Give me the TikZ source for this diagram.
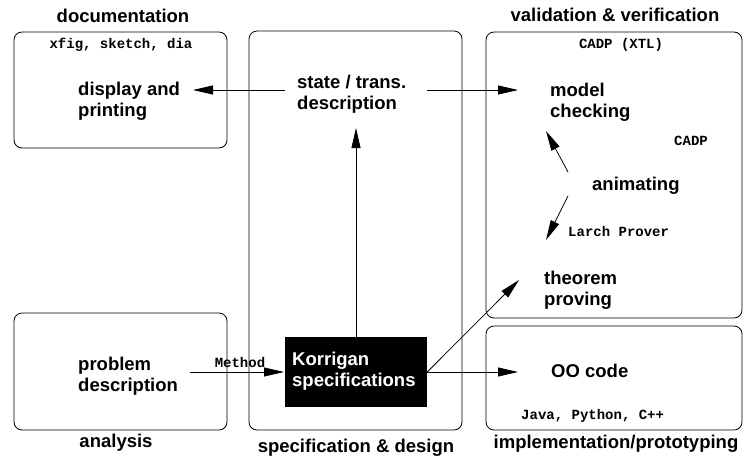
\documentclass[tikz,border=0pt]{standalone}
\usepackage{fontspec}
\setmainfont{Liberation Sans}
\setmonofont{Liberation Mono}
\usetikzlibrary{arrows.meta}
\begin{document}
\begin{tikzpicture}[x=1pt,y=-1pt,
  big/.style={font=\bfseries\fontsize{18.5}{21}\selectfont, inner sep=0pt, align=left},
  title/.style={font=\bfseries\fontsize{18.5}{21}\selectfont, inner sep=0pt, anchor=base},
  mono/.style={font=\ttfamily\bfseries\fontsize{14}{16}\selectfont, inner sep=0pt, anchor=base},
  panel/.style={draw, rounded corners=8pt, line width=0.8pt},
  arr/.style={-{Triangle[length=20pt,width=9pt]}, line width=0.8pt}]
\useasboundingbox (0,0) rectangle (743,458);
% panels
\draw[panel] (14,32) rectangle (227,148);
\draw[panel] (249,31) rectangle (462,430);
\draw[panel] (486,32) rectangle (742,318);
\draw[panel] (486,326) rectangle (742,430);
\draw[panel] (14,313) rectangle (227,430);
% titles
\node[title] (tdoc) at (123,22) {documentation};
\node[title] (tvv) at (615,21) {validation \& verification};
\node[title] (tana) at (116,447) {analysis};
\node[title] (tspec) at (356,452) {specification \& design};
\node[title] (timpl) at (616,448) {implementation/prototyping};
% tool texts
\node[mono] (mdoc) at (121,48) {xfig, sketch, dia};
\node[mono] (mcadpx) at (621,48) {CADP (XTL)};
\node[mono] (mcadp) at (691,145) {CADP};
\node[mono, anchor=base west] (mlarch) at (568,236) {Larch Prover};
\node[mono, anchor=base west] (mjava) at (521,419) {Java, Python, C++};
\node[mono] (mmeth) at (240,367) {Method};
% activity texts
\node[big, anchor=north west] (disp) at (78,81.5) {display and\\printing};
\node[big, anchor=north west] (state) at (297,74.5) {state / trans.\\description};
\node[big, anchor=north west] (model) at (550,83) {model\\checking};
\node[big, anchor=north west] (theo) at (544,270.5) {theorem\\proving};
\node[big, anchor=north west] (prob) at (78,356.5) {problem\\description};
\node[big, anchor=base west] (anim) at (592,190) {animating};
\node[big, anchor=base west] (oo) at (551,377) {OO code};
\node[fill=black, minimum width=142pt, minimum height=70pt, inner sep=0pt] (korr) at (356,372) {};
\node[big, text=white, anchor=north west] (korrt) at (292,352) {Korrigan\\specifications};
% connector ends
\coordinate (sL) at (285,90);
\coordinate (sR) at (427,90);
\coordinate (dIn) at (193,90);
\coordinate (mIn) at (518,90);
\coordinate (sIn) at (356,128);
\coordinate (pOut) at (190,372);
\coordinate (kIn) at (284,372);
\coordinate (ooIn) at (518,372);
\coordinate (tIn) at (519,280);
\coordinate (aUp) at (568,172);
\coordinate (aDn) at (568,196);
\coordinate (mcIn) at (546,131);
\coordinate (tpIn) at (546,240);
% connectors
\draw[arr] (sL) -- (dIn);
\draw[arr] (sR) -- (mIn);
\draw[arr] (korr.north) -- (sIn);
\draw[arr] (pOut) -- (kIn);
\draw[arr] (korr.east) -- (ooIn);
\draw[arr] (korr.east) -- (tIn);
\draw[arr] (aUp) -- (mcIn);
\draw[arr] (aDn) -- (tpIn);
\end{tikzpicture}
\end{document}
